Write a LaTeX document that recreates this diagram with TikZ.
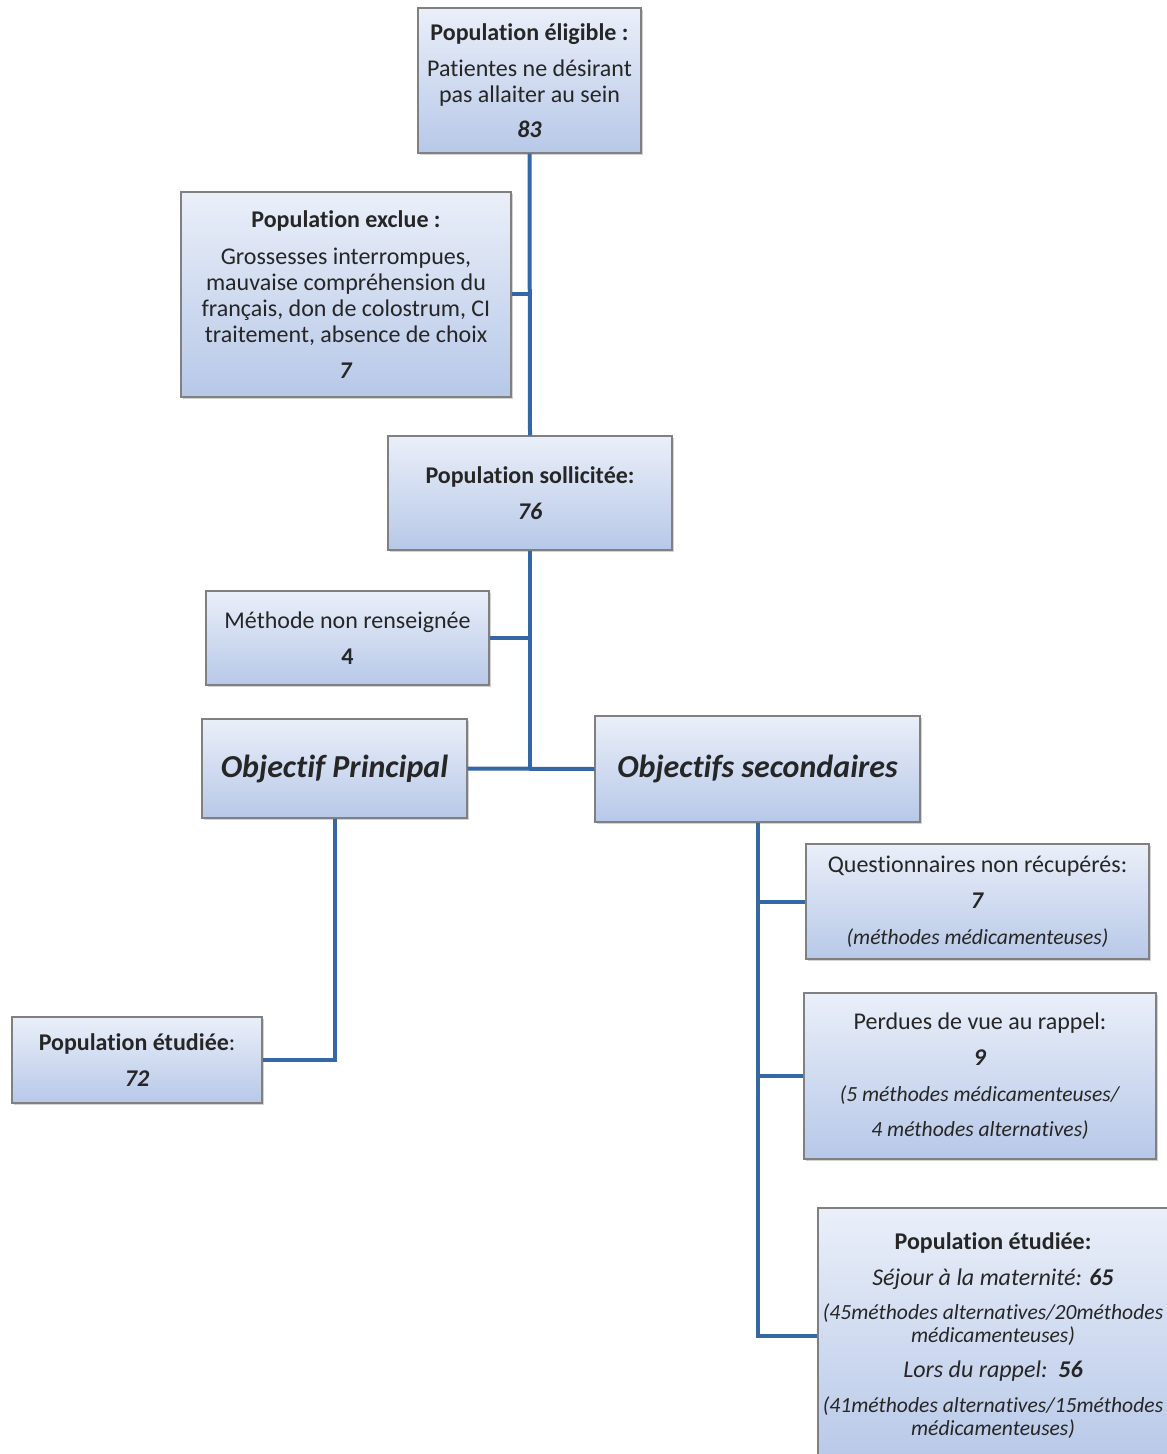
\documentclass[tikz,border=0pt]{standalone}
\usepackage{fontspec}
\setmainfont{Carlito}[Ligatures={NoCommon}]
\usepackage{tikz}
\usetikzlibrary{shapes,arrows,positioning,shadows}
\definecolor{boxtop}{HTML}{EAEFF9}
\definecolor{boxbot}{HTML}{B7C8E8}
\definecolor{linkblue}{HTML}{3566A6}
\tikzstyle{etape} = [draw=black!50, line width=0.6pt, rectangle, top color=boxtop, bottom color=boxbot, align=center, text=black!85, inner sep=2pt, font=\fontsize{12}{13}\selectfont, drop shadow={opacity=0.35, shadow xshift=1.2pt, shadow yshift=-1.2pt}]
\tikzstyle{objectif} = [etape, font=\fontsize{16}{18}\selectfont\bfseries\itshape]
\tikzstyle{lien} = [draw=linkblue, line width=2pt]
\newcommand{\chiffre}[1]{\textbf{\textit{#1}}}
\newcommand{\remarque}[1]{{\fontsize{10.8}{13}\selectfont\textit{#1}}}
\begin{document}
\begin{tikzpicture}[x=0.5pt, y=-0.5pt]
\useasboundingbox (0,0) rectangle (1166,1454);
% boites
\node [etape, minimum width=111.5pt, minimum height=72.5pt] (elig) at (529.5,80.5) {%
    \textbf{Population éligible :}\\[5pt]
    Patientes ne désirant\\
    pas allaiter au sein\\[4.5pt]
    \chiffre{83}};
\node [etape, minimum width=165pt, minimum height=102.5pt] (excl) at (346,294.5) {%
    \textbf{Population exclue :}\\[5.5pt]
    Grossesses interrompues,\\
    mauvaise compréhension du\\
    français, don de colostrum, CI\\
    traitement, absence de choix\\[5pt]
    \chiffre{7}};
\node [etape, minimum width=142pt, minimum height=57pt] (soll) at (530,493) {%
    \textbf{Population sollicitée:}\\[5pt]
    \chiffre{76}};
\node [etape, minimum width=141.5pt, minimum height=47pt] (meth) at (347.5,638) {%
    Méthode non renseignée\\[5pt]
    \textbf{4}};
\node [objectif, minimum width=132.5pt, minimum height=49.5pt] (princ) at (334.5,768.5) {Objectif Principal};
\node [objectif, minimum width=162.5pt, minimum height=53pt] (sec) at (757.5,769) {Objectifs secondaires};
\node [etape, minimum width=171.5pt, minimum height=57.5pt] (quest) at (977.5,901.5) {%
    Questionnaires non récupérés:\\[5pt]
    \chiffre{7}\\[5pt]
    \remarque{(méthodes médicamenteuses)}};
\node [etape, minimum width=176pt, minimum height=83pt] (perd) at (980,1076) {%
    Perdues de vue au rappel:\\[5pt]
    \chiffre{9}\\[5pt]
    \remarque{(5 méthodes médicamenteuses/}\\[4.5pt]
    \remarque{4 méthodes alternatives)}};
\node [etape, minimum width=125pt, minimum height=43pt] (etud) at (137,1060) {%
    \textbf{Population étudiée}:\\[5pt]
    \chiffre{72}};
\node [etape, minimum width=175pt, minimum height=127.5pt] (etudsec) at (993,1335.5) {%
    \textbf{Population étudiée:}\\[5pt]
    \textit{Séjour à la maternité: \textbf{65}}\\[4pt]
    \remarque{(45méthodes alternatives/20méthodes}\\[-1.5pt]
    \remarque{médicamenteuses)}\\[4.5pt]
    \textit{Lors du rappel:\ \ \textbf{56}}\\[4.5pt]
    \remarque{(41méthodes alternatives/15méthodes}\\[-1.5pt]
    \remarque{médicamenteuses)}};
% liens
\draw [lien] (elig.south) -- (soll.north);
\draw [lien] (excl.east) -- (excl.east -| elig.south);
\draw [lien] (soll.south) -- (soll.south |- sec.west);
\draw [lien] (meth.east) -- (meth.east -| soll.south);
\draw [lien] (princ.east) -- (sec.west);
\draw [lien] (princ.south) |- (etud.east);
\draw [lien] (sec.south) |- (etudsec.west);
\draw [lien] (quest.west) -- (quest.west -| sec.south);
\draw [lien] (perd.west) -- (perd.west -| sec.south);
\end{tikzpicture}
\end{document}
